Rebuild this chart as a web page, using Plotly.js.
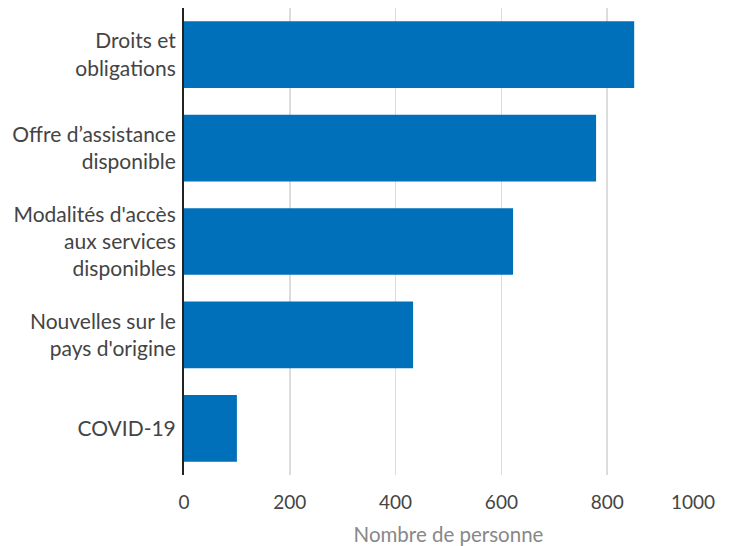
<!DOCTYPE html>
<html>
<head>
<meta charset="utf-8">
<script src="https://cdn.plot.ly/plotly-3.0.1.min.js"></script>
<style>html,body{margin:0;padding:0;background:#fff;}#chart{width:734px;height:546px;}</style>
</head>
<body>
<div id="chart"></div>
<script>
const categories = [
  "Droits et<br>obligations",
  "Offre d’assistance<br>disponible",
  "Modalités d'accès<br>aux services<br>disponibles",
  "Nouvelles sur le<br>pays d'origine",
  "COVID-19"
];
const values = [851, 779, 622, 433, 100];
const tickVals = [0, 200, 400, 600, 800, 1000];
const tickLabels = ["0", "200", "400", "600", "800", "1000"];

const trace = {
  type: 'bar',
  orientation: 'h',
  x: values,
  y: categories,
  marker: {color: '#0070ba'},
  hoverinfo: 'x+y'
};

// last tick label is drawn right-aligned at its tick so it stays inside the page
const lastIdx = tickVals.length - 1;
const axisText = tickLabels.map((t, i) => i === lastIdx ? '' : t);

const layout = {
  width: 734,
  height: 546,
  margin: {l: 184, r: 21, t: 8, b: 71},
  paper_bgcolor: '#fff',
  plot_bgcolor: '#fff',
  bargap: 0.286,
  showlegend: false,
  font: {family: 'Lato, sans-serif', size: 18, color: '#444'},
  xaxis: {
    range: [0, 1000],
    tickvals: tickVals,
    ticktext: axisText,
    showgrid: true,
    gridcolor: '#dcdcdc',
    gridwidth: 1.5,
    zeroline: false,
    showline: false,
    ticks: '',
    ticklen: 0,
    ticklabelstandoff: 14,
    tickfont: {size: 19, color: '#444'},
    title: {text: 'Nombre de personne', font: {size: 20.5, color: '#888'}, standoff: 16}
  },
  yaxis: {
    autorange: 'reversed',
    showline: true,
    linecolor: '#222',
    linewidth: 2,
    showgrid: false,
    zeroline: false,
    ticks: '',
    ticklen: 0,
    ticklabelstandoff: 2,
    tickfont: {size: 21, color: '#444'}
  },
  annotations: [{
    x: tickVals[lastIdx],
    xref: 'x',
    y: 0,
    yref: 'paper',
    text: tickLabels[lastIdx],
    showarrow: false,
    xanchor: 'right',
    yanchor: 'top',
    xshift: 4,
    yshift: -13,
    font: {size: 19, color: '#444', family: 'Lato, sans-serif'}
  }]
};

Plotly.newPlot('chart', [trace], layout, {displayModeBar: false, staticPlot: true});
</script>
</body>
</html>
